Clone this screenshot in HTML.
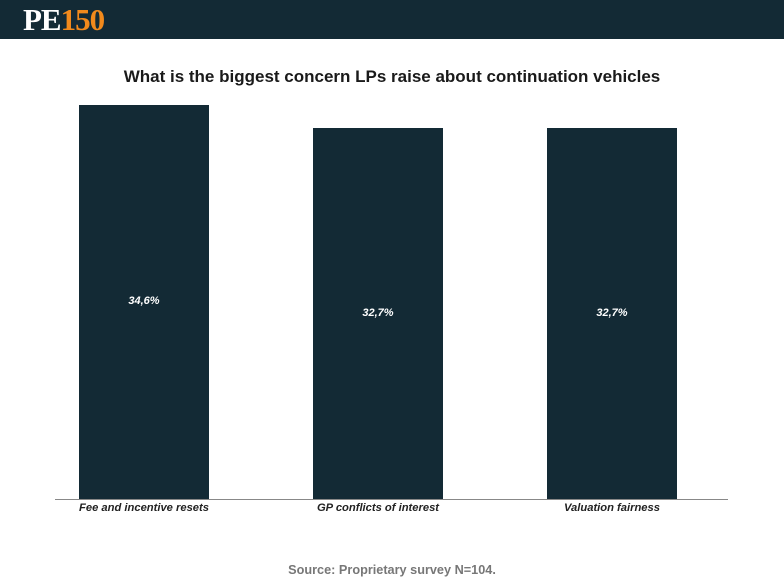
<!DOCTYPE html>
<html><head><style>
body{margin:0;width:784px;height:586px;background:#fff;position:relative;font-family:"Liberation Sans",sans-serif;overflow:hidden}
.hdr{position:absolute;left:0;top:0;width:784px;height:39px;background:#132a35}
.logo{position:absolute;left:23px;top:3px;font-family:"Liberation Serif",serif;font-weight:bold;font-size:31px;letter-spacing:-1px;line-height:34px}
.bar{position:absolute;background:#132a35}
.v{position:absolute;color:#fff;font-style:italic;font-weight:bold;font-size:11px;width:130px;text-align:center}
.l{position:absolute;top:502px;width:200px;text-align:center;font-style:italic;font-weight:bold;font-size:11.2px;color:#222}
</style></head><body>
<div class="hdr"><div class="logo"><span style="color:#fff">PE</span><span style="color:#f28a1c">150</span></div></div>
<div style="position:absolute;top:67px;width:784px;text-align:center;font-weight:bold;font-size:17px;color:#1a1a1a">What is the biggest concern LPs raise about continuation vehicles</div>
<div class="bar" style="left:79px;top:105px;width:130px;height:394px"></div>
<div class="bar" style="left:313px;top:128px;width:130px;height:371px"></div>
<div class="bar" style="left:547px;top:128px;width:130px;height:371px"></div>
<div class="v" style="left:79px;top:295px">34,6%</div>
<div class="v" style="left:313px;top:307px">32,7%</div>
<div class="v" style="left:547px;top:307px">32,7%</div>
<div style="position:absolute;left:55px;top:499px;width:673px;height:1px;background:#888"></div>
<div class="l" style="left:44px">Fee and incentive resets</div>
<div class="l" style="left:278px">GP conflicts of interest</div>
<div class="l" style="left:512px">Valuation fairness</div>
<div style="position:absolute;top:563px;width:784px;text-align:center;font-weight:bold;font-size:12.7px;color:#777">Source: Proprietary survey N=104.</div>
</body></html>
